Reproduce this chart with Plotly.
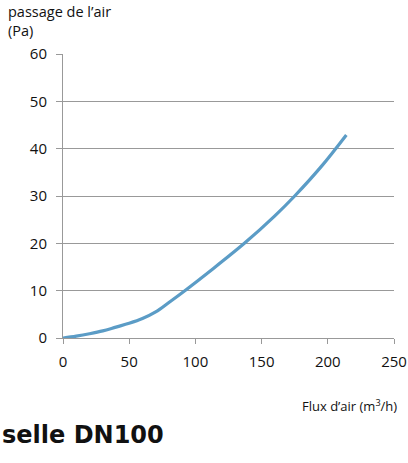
import plotly.graph_objects as go

flow = [0, 10, 20, 30, 40, 50, 60, 70, 80, 93, 110, 137, 160, 175, 195, 214]
pressure = [0, 0.4, 0.9, 1.5, 2.3, 3.1, 4.1, 5.5, 7.5, 10.2, 13.9, 20, 25.8, 30, 36.2, 42.9]
x_ticks = [0, 50, 100, 150, 200, 250]
y_ticks = [0, 10, 20, 30, 40, 50, 60]

W, H = 408, 463
L, R, T, B = 63, 14, 54, 125
PW, PH = W - L - R, H - T - B

def px(x):
    return (x - L) / PW

def py(y):
    return (H - B - y) / PH

fig = go.Figure()
fig.add_trace(go.Scatter(x=flow, y=pressure, mode="lines",
                         line=dict(color="#5b9cc6", width=3.2, shape="spline", smoothing=1.0),
                         showlegend=False, hoverinfo="skip"))

axis_font = dict(family="Open Sans, Lato, sans-serif", size=15, color="#111")
fig.update_layout(
    width=W, height=H,
    margin=dict(l=L, r=R, t=T, b=B, autoexpand=False),
    plot_bgcolor="white", paper_bgcolor="white",
    xaxis=dict(range=[0, 250], tickvals=x_ticks, showgrid=False, showline=True,
               linecolor="#999", linewidth=1, ticks="outside", ticklen=5, tickcolor="#999",
               tickfont=axis_font, zeroline=False, fixedrange=True, automargin=False,
               ticklabelstandoff=5),
    yaxis=dict(range=[0, 60], tickvals=y_ticks, showgrid=True, gridcolor="#999", gridwidth=1,
               showline=True, linecolor="#999", linewidth=1, ticks="outside", ticklen=6,
               tickcolor="#999", tickfont=axis_font, zeroline=False, fixedrange=True,
               automargin=False, ticklabelstandoff=6),
    annotations=[
        dict(text="passage de l’air<br>(Pa)", xref="paper", yref="paper", x=px(6), y=py(0),
             xanchor="left", yanchor="top", showarrow=False, align="left",
             font=dict(family="Open Sans, Lato, sans-serif", size=14.5, color="#111")),
        dict(text="Flux d’air (m<sup>3</sup>/h)", xref="paper", yref="paper", x=px(399), y=py(405),
             xanchor="right", yanchor="middle", showarrow=False,
             font=dict(family="Open Sans, Lato, sans-serif", size=13, color="#111")),
        dict(text="<b>selle DN100</b>", xref="paper", yref="paper", x=px(166), y=py(435),
             xanchor="right", yanchor="middle", showarrow=False,
             font=dict(family="DejaVu Sans, sans-serif", size=24, color="#111")),
    ],
)
fig.write_html("out.html", config={"displayModeBar": False},
               post_script="document.body.style.margin='0';document.body.style.overflow='hidden';")
